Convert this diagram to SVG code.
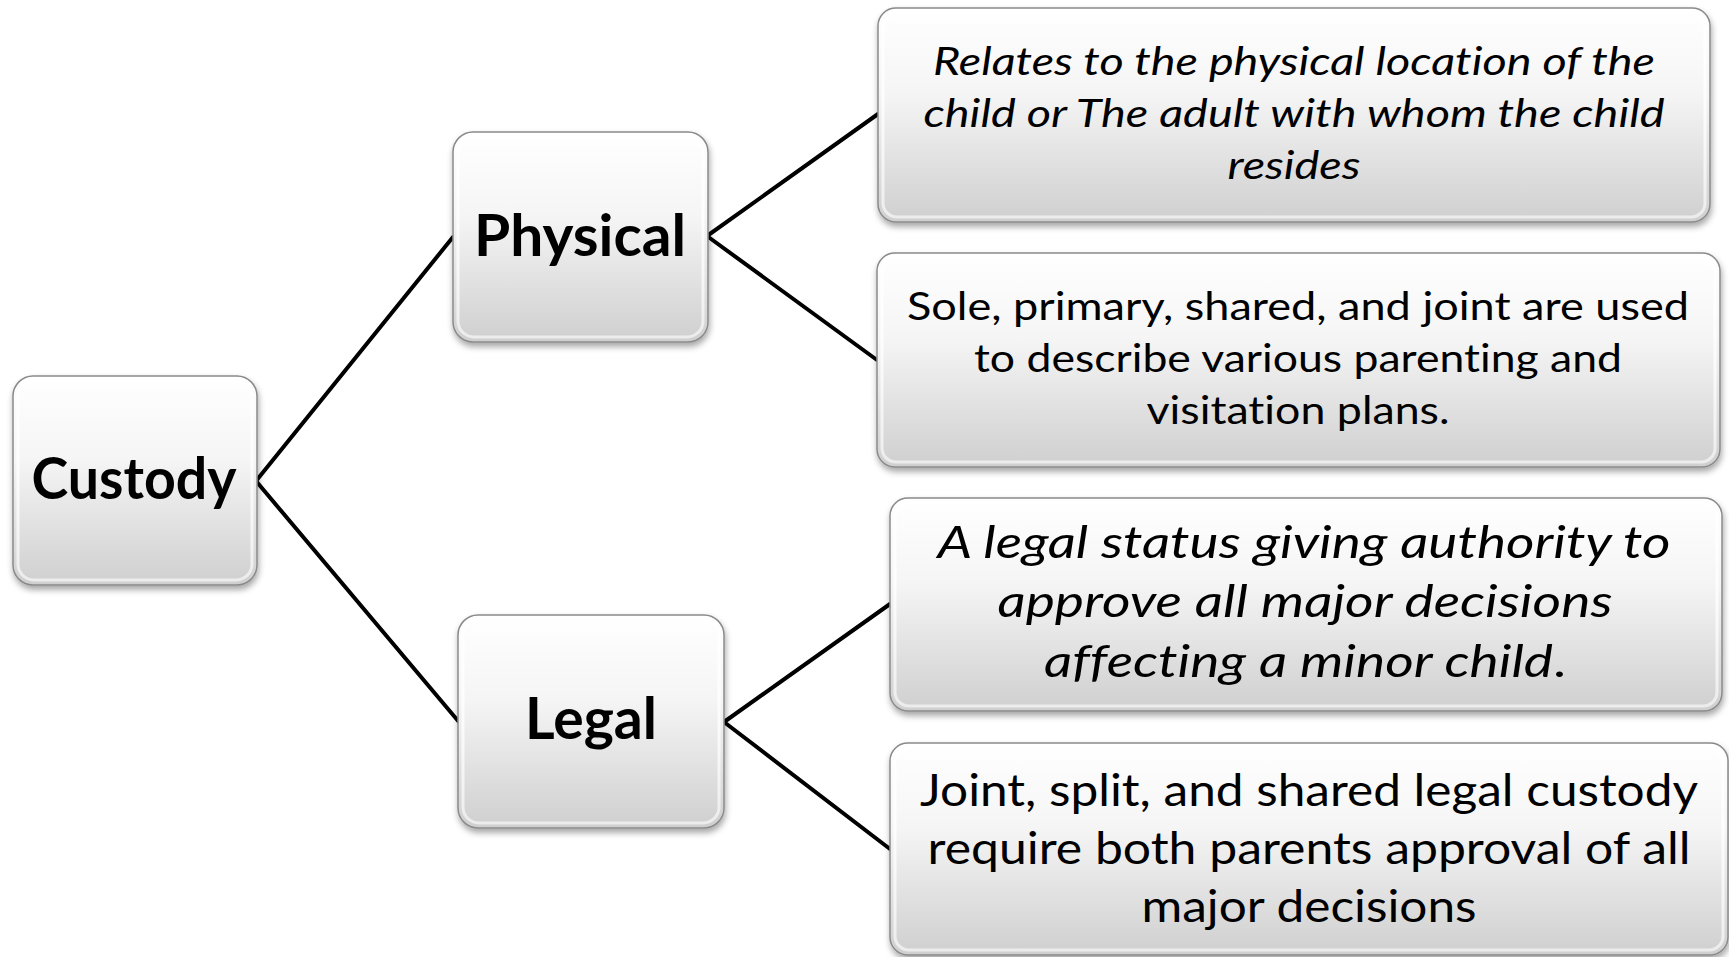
<svg xmlns="http://www.w3.org/2000/svg" width="1729" height="957" viewBox="0 0 1729 957">
<defs>
<linearGradient id="g" x1="0" y1="0" x2="0" y2="1">
<stop offset="0" stop-color="#ffffff"/>
<stop offset="0.4" stop-color="#f5f5f5"/>
<stop offset="1" stop-color="#cfcfcf"/>
</linearGradient>
<linearGradient id="hl" x1="0" y1="0" x2="0" y2="1">
<stop offset="0" stop-color="#ffffff" stop-opacity="0.9"/>
<stop offset="1" stop-color="#ffffff" stop-opacity="0.6"/>
</linearGradient>
<filter id="sh" x="-5%" y="-5%" width="110%" height="115%">
<feDropShadow dx="1" dy="4" stdDeviation="3" flood-color="#000" flood-opacity="0.35"/>
</filter>
</defs>
<style>
.box{fill:url(#g);stroke:#8a8a8a;stroke-width:1.5;filter:url(#sh)}
.hi{fill:none;stroke:url(#hl);stroke-width:3}
.t{font-family:Lato,"Liberation Sans",sans-serif;fill:#000;text-anchor:middle;font-variant-ligatures:none}
.b{font-weight:bold;font-size:58px}
.i{font-style:italic}
.s1{font-size:39px}
.s2{font-size:44px}
.con{stroke:#000;stroke-width:4;fill:none;stroke-linecap:round}
</style>
<rect width="1729" height="957" fill="#ffffff"/>
<g id="connectors">
<line class="con" x1="256" y1="481" x2="453" y2="237"/>
<line class="con" x1="256" y1="481" x2="459" y2="722"/>
<line class="con" x1="707" y1="236" x2="878" y2="114"/>
<line class="con" x1="707" y1="236" x2="877" y2="360"/>
<line class="con" x1="724" y1="722" x2="890" y2="604"/>
<line class="con" x1="724" y1="722" x2="890" y2="849"/>
</g>
<g id="custody">
<rect class="box" x="13" y="376" width="244" height="209" rx="20"/>
<rect class="hi" x="18" y="381" width="234" height="199" rx="16"/>
<text class="t b" x="134" y="499" textLength="205" lengthAdjust="spacingAndGlyphs">Custody</text>
</g>
<g id="physical">
<rect class="box" x="453" y="132" width="255" height="210" rx="20"/>
<rect class="hi" x="458" y="137" width="245" height="200" rx="16"/>
<text class="t b" x="580" y="256" textLength="212" lengthAdjust="spacingAndGlyphs">Physical</text>
</g>
<g id="legal">
<rect class="box" x="458" y="615" width="266" height="213" rx="20"/>
<rect class="hi" x="463" y="620" width="256" height="203" rx="16"/>
<text class="t b" x="591" y="739" textLength="132" lengthAdjust="spacingAndGlyphs">Legal</text>
</g>
<g id="physical-desc">
<rect class="box" x="878" y="8" width="832" height="214" rx="18"/>
<rect class="hi" x="883" y="13" width="822" height="204" rx="14"/>
<text class="t i s1" x="1294" y="75" textLength="722" lengthAdjust="spacingAndGlyphs">Relates to the physical location of the</text>
<text class="t i s1" x="1294" y="127" textLength="741" lengthAdjust="spacingAndGlyphs">child or The adult with whom the child</text>
<text class="t i s1" x="1294" y="179" textLength="133" lengthAdjust="spacingAndGlyphs">resides</text>
</g>
<g id="physical-types">
<rect class="box" x="877" y="253" width="843" height="214" rx="18"/>
<rect class="hi" x="882" y="258" width="833" height="204" rx="14"/>
<text class="t s1" x="1298" y="320" textLength="782" lengthAdjust="spacingAndGlyphs">Sole, primary, shared, and joint are used</text>
<text class="t s1" x="1298" y="372" textLength="648" lengthAdjust="spacingAndGlyphs">to describe various parenting and</text>
<text class="t s1" x="1298" y="424" textLength="303" lengthAdjust="spacingAndGlyphs">visitation plans.</text>
</g>
<g id="legal-desc">
<rect class="box" x="890" y="498" width="832" height="213" rx="18"/>
<rect class="hi" x="895" y="503" width="822" height="203" rx="14"/>
<text class="t i s2" x="1304" y="558" textLength="733" lengthAdjust="spacingAndGlyphs">A legal status giving authority to</text>
<text class="t i s2" x="1305" y="617" textLength="615" lengthAdjust="spacingAndGlyphs">approve all major decisions</text>
<text class="t s2" x="1305" y="677" textLength="522" lengthAdjust="spacingAndGlyphs"><tspan class="i">affecting a minor child</tspan>.</text>
</g>
<g id="legal-types">
<rect class="box" x="890" y="743" width="838" height="212" rx="18"/>
<rect class="hi" x="895" y="748" width="828" height="202" rx="14"/>
<text class="t s2" x="1309" y="806" textLength="778" lengthAdjust="spacingAndGlyphs">Joint, split, and shared legal custody</text>
<text class="t s2" x="1309" y="864" textLength="763" lengthAdjust="spacingAndGlyphs">require both parents approval of all</text>
<text class="t s2" x="1309" y="922" textLength="335" lengthAdjust="spacingAndGlyphs">major decisions</text>
</g>
</svg>
